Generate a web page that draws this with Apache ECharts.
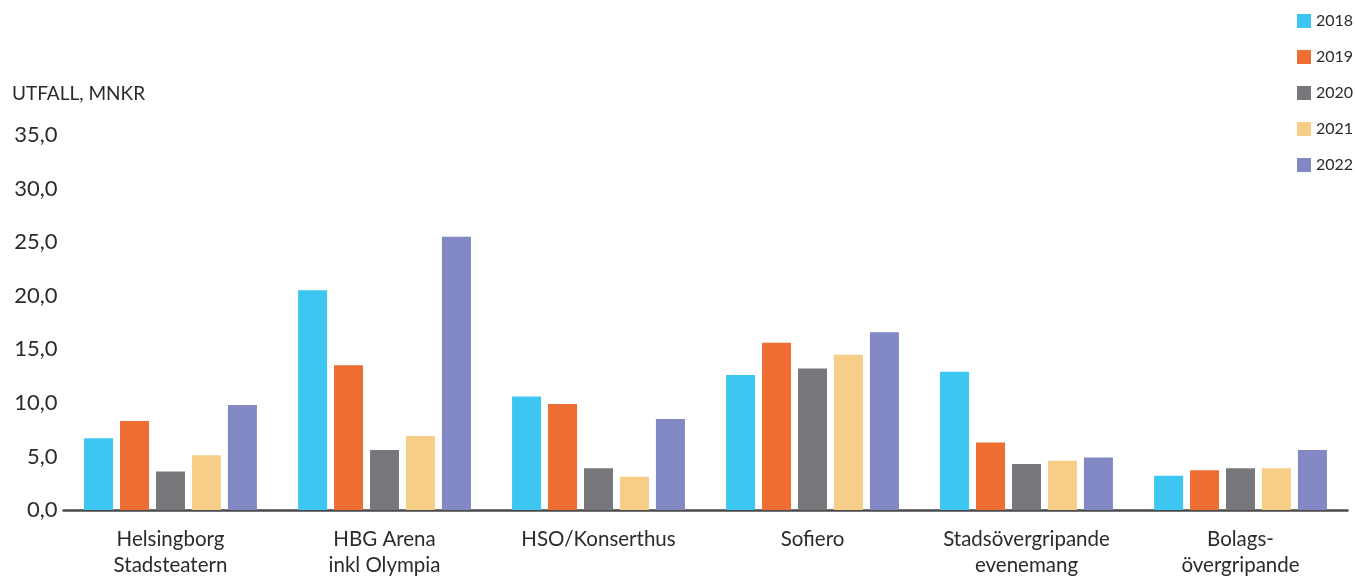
<!DOCTYPE html>
<html>
<head>
<meta charset="utf-8">
<script src="https://cdn.jsdelivr.net/npm/echarts@6/dist/echarts.min.js"></script>
<style>
html,body{margin:0;padding:0;background:#fff;}
#c{width:1355px;height:579px;}
</style>
</head>
<body>
<div id="c"></div>
<script>
var categories = ["Helsingborg\nStadsteatern", "HBG Arena\ninkl Olympia", "HSO/Konserthus", "Sofiero", "Stadsövergripande\nevenemang", "Bolags-\növergripande"];
var years = ["2018", "2019", "2020", "2021", "2022"];
var v2018 = [6.7, 20.5, 10.6, 12.6, 12.9, 3.2];
var v2019 = [8.3, 13.5, 9.9, 15.6, 6.3, 3.7];
var v2020 = [3.6, 5.6, 3.9, 13.2, 4.3, 3.9];
var v2021 = [5.1, 6.9, 3.1, 14.5, 4.6, 3.9];
var v2022 = [9.8, 25.5, 8.5, 16.6, 4.9, 5.6];
var yTicks = [0, 5, 10, 15, 20, 25, 30, 35];

var values = [v2018, v2019, v2020, v2021, v2022];
var colors = ["#3DC6F2", "#EE6D33", "#78787C", "#F7CE87", "#8188C4"];
var font = "Lato, 'Open Sans', sans-serif";

var chart = echarts.init(document.getElementById('c'));
chart.setOption({
  animation: false,
  textStyle: { fontFamily: font },
  title: {
    text: "UTFALL, MNKR",
    left: 7, top: 79,
    textStyle: { fontSize: 19, fontWeight: 'normal', color: '#2b2b2b', fontFamily: font }
  },
  legend: {
    orient: 'vertical',
    left: 1292, top: 8,
    itemWidth: 14, itemHeight: 14, itemGap: 20,
    icon: 'rect',
    data: years,
    textStyle: { fontSize: 16, color: '#2b2b2b', fontFamily: font }
  },
  grid: { left: 63.5, right: 7.5, top: 135, bottom: 65.5, containLabel: false },
  xAxis: {
    type: 'category',
    data: categories,
    axisLine: { lineStyle: { color: '#4a4a4a', width: 2.5 } },
    axisTick: { show: false },
    axisLabel: { interval: 0, fontSize: 20.5, lineHeight: 26.5, color: '#2b2b2b', margin: 16, fontFamily: font }
  },
  yAxis: {
    type: 'value',
    min: yTicks[0], max: yTicks[yTicks.length - 1], interval: 5,
    splitLine: { show: false },
    axisLine: { show: false },
    axisTick: { show: false },
    axisLabel: {
      fontSize: 22, color: '#2b2b2b', margin: 6, fontFamily: font,
      formatter: function (v) { return v.toFixed(1).replace('.', ','); }
    }
  },
  series: years.map(function (y, i) {
    return {
      name: y, type: 'bar', data: values[i],
      barWidth: 29, barGap: '24%',
      itemStyle: { color: colors[i] }
    };
  })
});
</script>
</body>
</html>
